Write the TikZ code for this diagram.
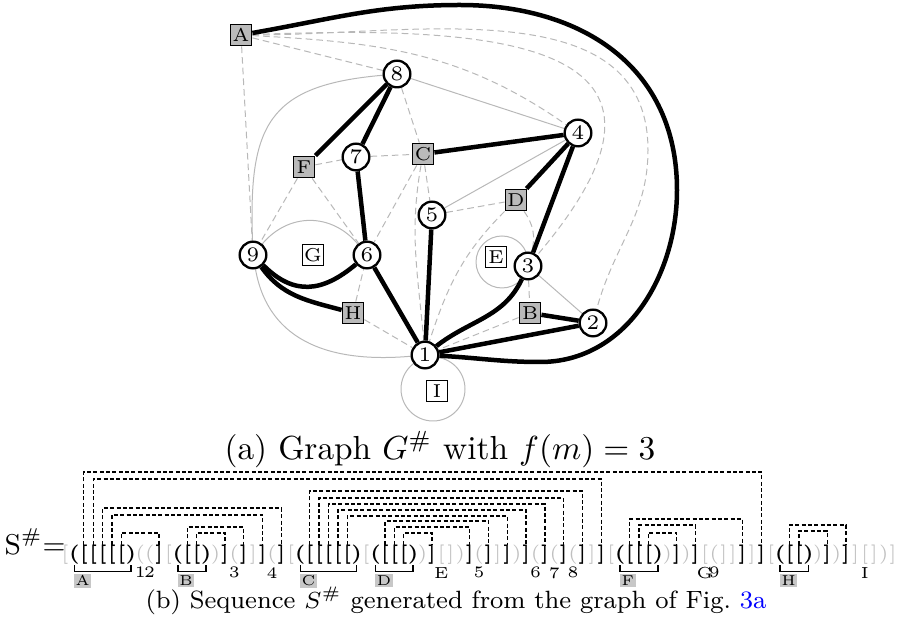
\documentclass[tikz,border=0pt]{standalone}
\usepackage{xcolor}
\usetikzlibrary{positioning,backgrounds}

\newcommand{\sqo}{[}
\newcommand{\sqc}{]}
\newcommand{\rdo}{(}
\newcommand{\rdc}{)}

\tikzset{
  vert/.style={circle,draw,line width=0.7pt,fill=white,minimum size=8pt,inner sep=0pt,font=\fontsize{6.2}{7}\selectfont},
  facebox/.style={rectangle,draw,line width=0.55pt,fill=white,minimum size=6.3pt,inner sep=0pt,font=\fontsize{5.6}{6}\selectfont},
  outerbox/.style={facebox,fill=black!27},
  treeedge/.style={line width=1.35pt},
  ghost/.style={draw=black!28,line width=0.3pt},
  ghostdash/.style={ghost,dash pattern=on 2pt off 1.2pt},
  brg/.style={inner sep=0pt,text height=4.35pt,text depth=1.45pt,text=black!25,font=\fontsize{5.8}{6}\selectfont},
  brb/.style={brg,text=black,font=\fontsize{5.8}{6}\selectfont\bfseries},
  link/.style={line width=0.4pt,dash pattern=on 1.2pt off 0.7pt},
  facebrace/.style={line width=0.45pt},
  vlbl/.style={inner sep=0pt,font=\fontsize{4.8}{5}\selectfont},
  flbl/.style={fill=black!22,inner sep=0.5pt,font=\fontsize{4.3}{5}\selectfont},
}

\begin{document}
\begin{tikzpicture}[x=0.3pt,y=0.3pt]
\useasboundingbox (0,0) rectangle (905,-642);

% graph
\node[outerbox] (A) at (241,-35) {A};
\node[vert] (v8) at (397,-74) {8};
\node[outerbox] (F) at (304,-167) {F};
\node[vert] (v7) at (356,-157) {7};
\node[outerbox] (C) at (423,-154) {C};
\node[vert] (v4) at (578,-133) {4};
\node[vert] (v5) at (432,-215) {5};
\node[outerbox] (D) at (516,-200) {D};
\node[vert] (v9) at (253,-255) {9};
\node[facebox] (G) at (313,-255) {G};
\node[vert] (v6) at (367,-255) {6};
\node[facebox] (E) at (496,-257) {E};
\node[vert] (v3) at (528,-266) {3};
\node[outerbox] (H) at (353,-313) {H};
\node[outerbox] (B) at (530,-313) {B};
\node[vert] (v2) at (593,-323) {2};
\node[vert] (v1) at (425,-355) {1};
\node[facebox] (I) at (437,-391) {I};

\begin{scope}[on background layer]
  \draw[ghost] (v8) -- (v4);
  \draw[ghost] (v4) -- (v5);
  \draw[ghost] (v3) -- (v2);
  \draw[ghost] (v8) to[out=185,in=92,looseness=1.4] (v9);
  \draw[ghost] (v9) to[bend left=50,looseness=1.1] (v6);
  \draw[ghost] (v9) to[out=-80,in=185,looseness=1.1] (v1);
  \draw[ghost] (E) ++(6,-5) circle[radius=26];
  \draw[ghost] (I) ++(-4,2) circle[radius=32];

  \draw[ghostdash] (A) -- (v9);
  \draw[ghostdash] (A) -- (v8);
  \draw[ghostdash] (A) to[out=-3,in=145] (v4);
  \draw[ghostdash] (A) .. controls (500,-25) and (720,-40) .. (v3);
  \draw[ghostdash] (A) to[out=0,in=90] (648,-150) to[out=-90,in=75] (v2);
  \draw[ghostdash] (v8) -- (C);
  \draw[ghostdash] (F) -- (v7);
  \draw[ghostdash] (v7) -- (C);
  \draw[ghostdash] (F) -- (v9);
  \draw[ghostdash] (F) -- (v6);
  \draw[ghostdash] (C) -- (v6);
  \draw[ghostdash] (C) -- (v5);
  \draw[ghostdash] (C) to[out=-100,in=95] (v1);
  \draw[ghostdash] (v5) -- (D);
  \draw[ghostdash] (D) to[out=-135,in=72] (v1);
  \draw[ghostdash] (D) to[bend left=25] (v3);
  \draw[ghostdash] (v3) -- (B);
  \draw[ghostdash] (B) -- (v1);
  \draw[ghostdash] (H) -- (v1);
  \draw[ghostdash] (H) -- (v6);

  \draw[treeedge] (A) to[out=10,in=180] (460,-5) to[out=0,in=90,looseness=1.1] (677,-190)
    to[out=-90,in=0] (540,-362) to[out=180,in=-3] (v1);
  \draw[treeedge] (v8) -- (F);
  \draw[treeedge] (v8) -- (v7);
  \draw[treeedge] (v7) -- (v6);
  \draw[treeedge] (C) -- (v4);
  \draw[treeedge] (v4) -- (D);
  \draw[treeedge] (v4) -- (v3);
  \draw[treeedge] (v3) to[out=-115,in=38] (v1);
  \draw[treeedge] (v5) -- (v1);
  \draw[treeedge] (v6) -- (v1);
  \draw[treeedge] (v9) to[out=-45,in=-140,looseness=1.2] (v6);
  \draw[treeedge] (v9) to[out=-55,in=165] (H);
  \draw[treeedge] (B) -- (v2);
  \draw[treeedge] (v2) -- (v1);
\end{scope}

\node (capa) at (440,-450) {(a) Graph $G^{\#}$ with $f(m)=3$};

% sequence
\node[anchor=base west,font=\fontsize{8.6}{10}\selectfont,inner sep=0pt] (seq) at (4,-555) {S$^{\#}$=};
\foreach \ch/\col [count=\i] in {\sqo/g,\rdo/b,\sqo/b,\sqo/b,\sqo/b,\sqo/b,\sqo/b,\rdc/b,\rdo/g,\rdo/g,
  \sqc/b,\sqo/g,\rdo/b,\sqo/b,\sqo/b,\rdc/b,\rdc/g,\sqc/b,\rdo/g,\sqc/b,
  \sqc/g,\sqc/b,\rdo/g,\sqc/b,\sqo/g,\rdo/b,\sqo/b,\sqo/b,\sqo/b,\sqo/b,
  \sqo/b,\rdc/b,\sqo/g,\rdo/b,\sqo/b,\sqo/b,\sqo/b,\rdc/b,\rdc/g,\sqc/b,
  \sqo/g,\sqc/g,\rdc/g,\sqc/b,\rdo/g,\sqc/b,\sqc/g,\sqc/b,\rdc/g,\sqc/b,
  \rdo/g,\sqc/b,\rdo/g,\sqc/b,\rdo/g,\sqc/b,\sqc/g,\sqc/b,\sqo/g,\rdo/b,
  \sqo/b,\sqo/b,\sqo/b,\rdc/b,\rdc/g,\sqc/b,\rdc/g,\sqc/b,\sqo/g,\rdo/g,
  \sqc/g,\sqc/g,\sqc/b,\sqc/g,\sqc/b,\sqo/g,\rdo/b,\sqo/b,\sqo/b,\rdc/b,
  \rdc/g,\sqc/b,\rdc/g,\sqc/b,\sqc/g,\sqo/g,\sqc/g,\rdc/g,\sqc/g}
  \node[br\col] (b\i) at ({65+9.41*(\i-1)},-555) {\ch};

\foreach \s/\e/\y in {3/75/472,4/58/479,5/24/508,6/22/515,7/11/533,14/20/527,15/18/533,
  27/56/491,28/54/498,29/52/504,30/50/510,31/48/516,35/46/521,36/44/527,37/40/533,
  61/73/519,62/68/525,63/66/533,78/84/525,79/82/531}
  \draw[link] (b\s.north) -- (b\s.north |- 0,-\y) -| (b\e.north);

\foreach \s/\e/\t in {2/8/A,13/16/B,26/32/C,34/38/D,60/64/F,77/80/H}{
  \draw[facebrace] (b\s.south) -- ++(0,-6) -| (b\e.south);
  \node[flbl,anchor=north west] at ([xshift=-0.3pt,yshift=-2.4pt]b\s.south) {\t};
}
\foreach \k/\t in {9/1,10/2,19/3,23/4,41/E,45/5,51/6,53/7,55/8,69/G,70/9,86/I}
  \node[vlbl,below=0.4pt of b\k] {\t};

\node[font=\fontsize{7.5}{9}\selectfont] (capb) at (456,-601) {(b) Sequence $S^{\#}$ generated from the graph of Fig.~\textcolor{blue}{3a}};
\end{tikzpicture}
\end{document}
